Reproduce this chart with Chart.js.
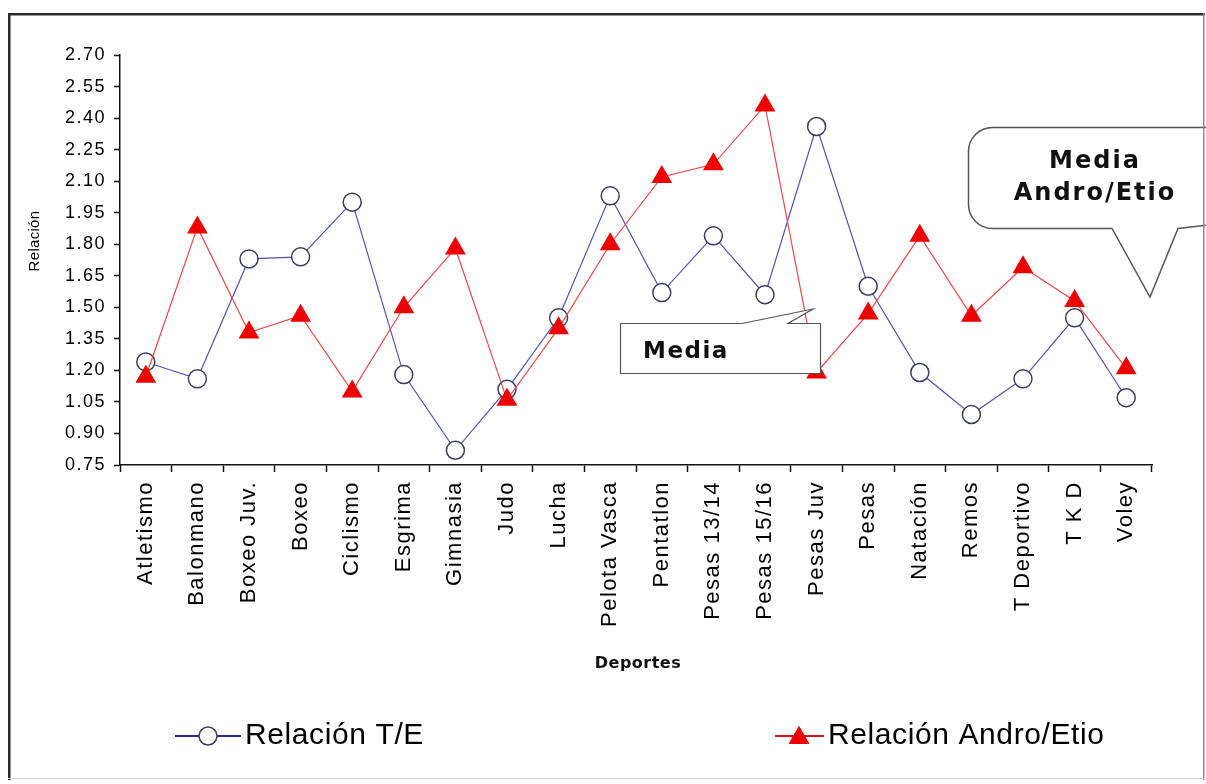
<!DOCTYPE html>
<html lang="es">
<head>
<meta charset="utf-8">
<title>Relación T/E y Andro/Etio por deporte</title>
<script src="https://cdn.jsdelivr.net/npm/chart.js"></script>
<style>
  html, body { margin: 0; padding: 0; background: #fff; }
  #wrap { position: relative; width: 1206px; height: 784px; }
  canvas { display: block; }
</style>
</head>
<body>
<div id="wrap"><canvas id="chart" width="1206" height="784"></canvas></div>
<script>
// Sports on the category axis
const deportes = [
  'Atletismo', 'Balonmano', 'Boxeo Juv.', 'Boxeo', 'Ciclismo', 'Esgrima',
  'Gimnasia', 'Judo', 'Lucha', 'Pelota Vasca', 'Pentatlon', 'Pesas 13/14',
  'Pesas 15/16', 'Pesas Juv', 'Pesas', 'Natación', 'Remos', 'T Deportivo',
  'T K D', 'Voley'
];

// Mean testosterone / epitestosterone ratio per sport
const relacionTE = [
  1.24, 1.16, 1.73, 1.74, 2.00, 1.18, 0.82, 1.11, 1.45, 2.03,
  1.57, 1.84, 1.56, 2.36, 1.60, 1.19, 0.99, 1.16, 1.45, 1.07
];

// Mean androsterone / etiocholanolone ratio per sport
const relacionAndroEtio = [
  1.17, 1.88, 1.38, 1.46, 1.10, 1.50, 1.78, 1.06, 1.40, 1.80,
  2.12, 2.18, 2.46, 1.19, 1.47, 1.84, 1.46, 1.69, 1.53, 1.21
];

// Value axis ticks
const yTicks = [0.75, 0.90, 1.05, 1.20, 1.35, 1.50, 1.65, 1.80, 1.95, 2.10, 2.25, 2.40, 2.55, 2.70];

const seriesTE = 'Relación T/E';
const seriesAE = 'Relación Andro/Etio';

const SANS = "'Liberation Sans', Arial, sans-serif";
const BOLD = "'DejaVu Sans', Verdana, sans-serif";

Chart.defaults.font.family = SANS;
Chart.defaults.color = '#000';

function drawTriangle(ctx, x, y, r) {
  if (Chart.helpers && Chart.helpers.drawPoint) {
    Chart.helpers.drawPoint(ctx, { pointStyle: 'triangle', radius: r, rotation: 0, borderWidth: 0 }, x, y);
    ctx.fill();
  } else {
    ctx.beginPath();
    ctx.moveTo(x, y - r);
    ctx.lineTo(x + r * 0.866, y + r / 2);
    ctx.lineTo(x - r * 0.866, y + r / 2);
    ctx.closePath();
    ctx.fill();
  }
}

// Background, axis titles, callouts, legend and outer frame
const decor = {
  id: 'decor',
  beforeDraw(chart) {
    const ctx = chart.ctx;
    ctx.save();
    ctx.fillStyle = '#fff';
    ctx.fillRect(0, 0, chart.width, chart.height);
    ctx.restore();
    ctx.letterSpacing = '1.5px';
  },
  beforeDatasetsDraw(chart) {
    chart.ctx.letterSpacing = '0px';
  },
  afterDraw(chart) {
    const ctx = chart.ctx;
    ctx.save();

    // y-axis title
    ctx.save();
    ctx.letterSpacing = '0.3px';
    ctx.fillStyle = '#000';
    ctx.font = '15px ' + SANS;
    ctx.textAlign = 'center';
    ctx.textBaseline = 'middle';
    ctx.translate(35, 241);
    ctx.rotate(-Math.PI / 2);
    ctx.fillText('Relación', 0, 0);
    ctx.restore();

    // x-axis title
    ctx.save();
    ctx.letterSpacing = '0.5px';
    ctx.fillStyle = '#111';
    ctx.font = 'bold 16px ' + BOLD;
    ctx.textAlign = 'center';
    ctx.textBaseline = 'middle';
    ctx.fillText('Deportes', 638, 664);
    ctx.restore();

    // "Media" callout
    ctx.save();
    ctx.beginPath();
    ctx.moveTo(620.5, 323.5);
    ctx.lineTo(742, 323.5);
    ctx.lineTo(813, 309);
    ctx.lineTo(788, 323.5);
    ctx.lineTo(820.5, 323.5);
    ctx.lineTo(820.5, 373.5);
    ctx.lineTo(620.5, 373.5);
    ctx.closePath();
    ctx.fillStyle = '#fff';
    ctx.fill();
    ctx.strokeStyle = '#555';
    ctx.lineWidth = 1.2;
    ctx.stroke();
    ctx.fillStyle = '#111';
    ctx.font = 'bold 23px ' + BOLD;
    ctx.letterSpacing = '1.5px';
    ctx.textAlign = 'left';
    ctx.textBaseline = 'middle';
    ctx.fillText('Media', 643, 352);
    ctx.restore();

    // "Media Andro/Etio" speech bubble
    ctx.save();
    const L = 968.5, T = 127.5, B = 228.5, R = 1230, rad = 24;
    ctx.beginPath();
    ctx.moveTo(L + rad, T);
    ctx.lineTo(R, T);
    ctx.lineTo(R, B - 6);
    ctx.lineTo(1178, B);
    ctx.lineTo(1150, 297);
    ctx.lineTo(1112, B);
    ctx.lineTo(L + rad, B);
    ctx.arcTo(L, B, L, B - rad, rad);
    ctx.lineTo(L, T + rad);
    ctx.arcTo(L, T, L + rad, T, rad);
    ctx.closePath();
    ctx.fillStyle = '#fff';
    ctx.fill();
    ctx.strokeStyle = '#555';
    ctx.lineWidth = 1.5;
    ctx.stroke();
    ctx.fillStyle = '#111';
    ctx.font = 'bold 24px ' + BOLD;
    ctx.letterSpacing = '2px';
    ctx.textAlign = 'center';
    ctx.textBaseline = 'middle';
    ctx.fillText('Media', 1095, 162);
    ctx.fillText('Andro/Etio', 1095, 194);
    ctx.restore();

    // Legend
    const dsTE = chart.data.datasets[0];
    const dsAE = chart.data.datasets[1];
    const ly = 736;
    ctx.save();
    ctx.strokeStyle = '#2a2a8c';
    ctx.lineWidth = 2;
    ctx.beginPath();
    ctx.moveTo(175, ly);
    ctx.lineTo(241, ly);
    ctx.stroke();
    ctx.beginPath();
    ctx.arc(208, ly, 9, 0, Math.PI * 2);
    ctx.fillStyle = dsTE.pointBackgroundColor;
    ctx.fill();
    ctx.strokeStyle = dsTE.pointBorderColor;
    ctx.lineWidth = 1.5;
    ctx.stroke();

    ctx.strokeStyle = '#dd1010';
    ctx.lineWidth = 2;
    ctx.beginPath();
    ctx.moveTo(775, ly);
    ctx.lineTo(824, ly);
    ctx.stroke();
    ctx.fillStyle = dsAE.pointBackgroundColor;
    drawTriangle(ctx, 799, ly + 2, 12);

    ctx.fillStyle = '#000';
    ctx.font = '30px ' + SANS;
    ctx.letterSpacing = '0.6px';
    ctx.textAlign = 'left';
    ctx.textBaseline = 'middle';
    ctx.fillText(dsTE.label, 245, ly);
    ctx.fillText(dsAE.label, 828, ly);
    ctx.restore();

    // Outer frame
    ctx.fillStyle = '#2b2b2b';
    ctx.fillRect(8, 13, 1197, 2.5);
    ctx.fillRect(8, 13, 2.5, 767);
    ctx.fillStyle = '#8a8a8a';
    ctx.fillRect(1203, 13, 1.5, 767);
    ctx.fillStyle = '#d0d0d0';
    ctx.fillRect(8, 778, 1197, 1);

    ctx.restore();
    ctx.letterSpacing = '0px';
  }
};

new Chart(document.getElementById('chart'), {
  type: 'line',
  data: {
    labels: deportes,
    datasets: [
      {
        label: seriesTE,
        data: relacionTE,
        order: 1,
        borderColor: '#5252b6',
        borderWidth: 1.2,
        tension: 0,
        fill: false,
        pointStyle: 'circle',
        pointRadius: 9,
        pointHoverRadius: 9,
        pointBackgroundColor: '#ffffff',
        pointBorderColor: '#3c3c60',
        pointBorderWidth: 1.5
      },
      {
        label: seriesAE,
        data: relacionAndroEtio,
        order: 0,
        borderColor: '#e84848',
        borderWidth: 1.2,
        tension: 0,
        fill: false,
        pointStyle: 'triangle',
        pointRadius: 12,
        pointHoverRadius: 12,
        pointBackgroundColor: '#ee0000',
        pointBorderColor: '#ee0000',
        pointBorderWidth: 0
      }
    ]
  },
  options: {
    responsive: false,
    devicePixelRatio: 1,
    animation: false,
    events: [],
    layout: { padding: { left: 20, top: 55, right: 54, bottom: 119 } },
    plugins: {
      legend: { display: false },
      title: { display: false },
      tooltip: { enabled: false }
    },
    scales: {
      x: {
        type: 'category',
        offset: true,
        afterFit(scale) { scale.height = 200; },
        grid: {
          display: true,
          offset: true,
          drawOnChartArea: false,
          drawTicks: true,
          tickLength: 7,
          tickWidth: 1.5,
          tickColor: '#111'
        },
        border: { display: true, color: '#111', width: 1.5 },
        ticks: {
          autoSkip: false,
          minRotation: 90,
          maxRotation: 90,
          padding: 9,
          color: '#000',
          font: { size: 22 }
        }
      },
      y: {
        min: 0.75,
        max: 2.70,
        afterFit(scale) { scale.width = 100; },
        afterBuildTicks(scale) { scale.ticks = yTicks.map(v => ({ value: v })); },
        grid: {
          display: true,
          drawOnChartArea: false,
          drawTicks: true,
          tickLength: 6,
          tickWidth: 1.5,
          tickColor: '#111'
        },
        border: { display: true, color: '#111', width: 1.5 },
        ticks: {
          padding: 8,
          color: '#000',
          font: { size: 18 },
          callback: v => Number(v).toFixed(2)
        }
      }
    }
  },
  plugins: [decor]
});
</script>
</body>
</html>
